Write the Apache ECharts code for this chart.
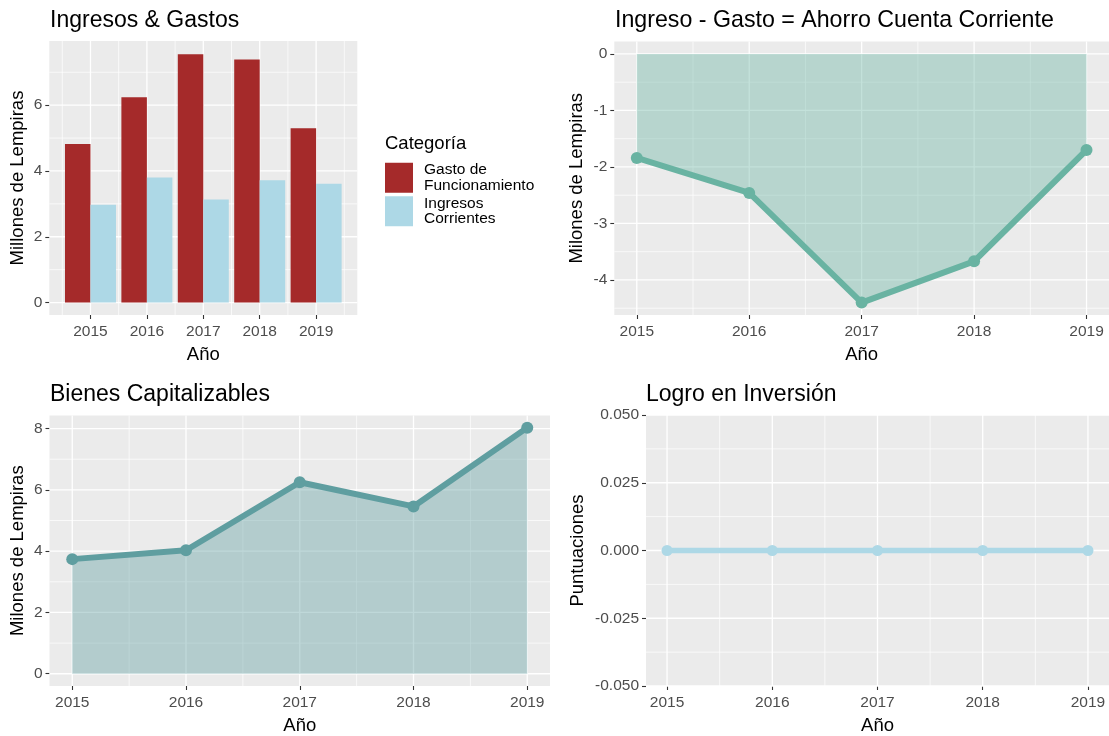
<!DOCTYPE html>
<html>
<head>
<meta charset="utf-8">
<title>Ingresos, Gastos, Ahorro, Bienes e Inversión</title>
<script src="https://cdn.jsdelivr.net/npm/echarts@6/dist/echarts.min.js"></script>
<style>
  html, body { margin: 0; padding: 0; background: #fff; }
  #chart { width: 1109px; height: 736px; }
</style>
</head>
<body>
<div id="chart"></div>
<script>
// datos
const years = [2015, 2016, 2017, 2018, 2019];
const gastoFuncionamiento = [4.82, 6.24, 7.55, 7.39, 5.30];
const ingresosCorrientes = [2.97, 3.80, 3.13, 3.72, 3.61];
const ahorroCuentaCorriente = [-1.84, -2.46, -4.40, -3.67, -1.70];
const bienesCapitalizables = [3.74, 4.03, 6.25, 5.46, 8.03];
const logroInversion = [0, 0, 0, 0, 0];

const ticksIngresosGastos = [0, 2, 4, 6];
const ticksAhorro = [-4, -3, -2, -1, 0];
const ticksBienes = [0, 2, 4, 6, 8];
const ticksLogro = [-0.05, -0.025, 0, 0.025, 0.05];

const FONT = "'Liberation Sans', Arial, sans-serif";
const PANEL_BG = '#EBEBEB';

const chart = echarts.init(document.getElementById('chart'));

function pairs(xs, ys) {
  return xs.map((x, i) => [x, ys[i]]);
}

// ggplot style minor breaks half way between the major ones
function minorsOf(major, min, max) {
  const step = major[1] - major[0];
  const out = [];
  for (let v = major[0] - step / 2; v <= max + 1e-9; v += step) {
    if (v >= min - 1e-9) out.push(+v.toFixed(6));
  }
  return out;
}

// white panel grid drawn as a custom series under the marks
function gridLines(gi, xr, yr, xMajor, yMajor) {
  const items = [];
  xMajor.forEach(v => items.push([v, 0, 1]));
  minorsOf(xMajor, xr[0], xr[1]).forEach(v => items.push([v, 0, 0]));
  yMajor.forEach(v => items.push([v, 1, 1]));
  minorsOf(yMajor, yr[0], yr[1]).forEach(v => items.push([v, 1, 0]));
  const xMid = (xr[0] + xr[1]) / 2;
  const yMid = (yr[0] + yr[1]) / 2;
  return {
    type: 'custom',
    xAxisIndex: gi,
    yAxisIndex: gi,
    z: 1,
    silent: true,
    animation: false,
    encode: { x: -1, y: -1 },
    data: items,
    renderItem: function (params, api) {
      const cs = params.coordSys;
      const v = api.value(0);
      const dir = api.value(1);
      const major = api.value(2);
      let shape;
      if (dir === 0) {
        const px = api.coord([v, yMid])[0];
        shape = { x1: px, y1: cs.y, x2: px, y2: cs.y + cs.height };
      } else {
        const py = api.coord([xMid, v])[1];
        shape = { x1: cs.x, y1: py, x2: cs.x + cs.width, y2: py };
      }
      return {
        type: 'line',
        shape: shape,
        style: { stroke: '#FFFFFF', lineWidth: major ? 1.3 : 0.7 }
      };
    }
  };
}

const tickStyle = { show: true, length: 4, lineStyle: { color: '#333333', width: 1.1 } };
const labelStyle = { color: '#4D4D4D', fontSize: 15.5, fontFamily: FONT };
const nameStyle = { color: '#000000', fontSize: 18.5, fontFamily: FONT };

function xAxisFor(gi, range) {
  return {
    gridIndex: gi,
    type: 'value',
    min: range[0],
    max: range[1],
    axisLine: { show: false, onZero: false },
    axisTick: Object.assign({ customValues: years }, tickStyle),
    axisLabel: Object.assign({ customValues: years, margin: 9, formatter: v => String(v) }, labelStyle),
    splitLine: { show: false },
    name: 'Año',
    nameLocation: 'middle',
    nameGap: 30,
    nameTextStyle: nameStyle
  };
}

function yAxisFor(gi, range, ticks, name, gap, fmt) {
  return {
    gridIndex: gi,
    type: 'value',
    min: range[0],
    max: range[1],
    axisLine: { show: false, onZero: false },
    axisTick: Object.assign({ customValues: ticks }, tickStyle),
    axisLabel: Object.assign({ customValues: ticks, margin: 7, formatter: fmt || (v => String(v)) }, labelStyle),
    splitLine: { show: false },
    name: name,
    nameLocation: 'middle',
    nameGap: gap,
    nameTextStyle: nameStyle
  };
}

const x1 = [2014.27, 2019.73], y1 = [-0.378, 7.95];
const x2 = [2014.8, 2019.2], y2 = [-4.62, 0.22];
const x3 = [2014.8, 2019.2], y3 = [-0.40, 8.43];
const x4 = [2014.8, 2019.2], y4 = [-0.05, 0.05];

const legendNames = {
  'Gasto de Funcionamiento': 'Gasto de\nFuncionamiento',
  'Ingresos Corrientes': 'Ingresos\nCorrientes'
};

function titleAt(text, left, top, size) {
  return {
    text: text,
    left: left,
    top: top,
    padding: 0,
    textStyle: { fontSize: size, fontWeight: 'normal', color: '#000000', fontFamily: FONT }
  };
}

const option = {
  animation: false,
  backgroundColor: '#FFFFFF',
  title: [
    titleAt('Ingresos & Gastos', 50, 9.5, 23),
    titleAt('Ingreso - Gasto = Ahorro Cuenta Corriente', 615, 9.5, 23.2),
    titleAt('Bienes Capitalizables', 50, 383.5, 23),
    titleAt('Logro en Inversión', 646, 383.5, 23),
    titleAt('Categoría', 385, 134.5, 18.5)
  ],
  legend: {
    left: 385,
    top: 162,
    orient: 'vertical',
    padding: 0,
    itemWidth: 28,
    itemHeight: 30,
    itemGap: 2,
    icon: 'rect',
    selectedMode: false,
    data: Object.keys(legendNames),
    formatter: n => legendNames[n],
    textStyle: { fontSize: 15.5, lineHeight: 15.5, color: '#000000', fontFamily: FONT, padding: [0, 0, 0, 6] }
  },
  grid: [
    { left: 49.3, top: 41, width: 308, height: 274 },
    { left: 614.3, top: 41.5, width: 495.5, height: 273.5 },
    { left: 49.5, top: 415.4, width: 500.5, height: 273.2 },
    { left: 646, top: 415, width: 463, height: 274 }
  ].map(g => Object.assign({ show: true, backgroundColor: PANEL_BG, borderWidth: 0, containLabel: false }, g)),
  xAxis: [xAxisFor(0, x1), xAxisFor(1, x2), xAxisFor(2, x3), xAxisFor(3, x4)],
  yAxis: [
    yAxisFor(0, y1, ticksIngresosGastos, 'Millones de Lempiras', 22),
    yAxisFor(1, y2, ticksAhorro, 'Milones de Lempiras', 28),
    yAxisFor(2, y3, ticksBienes, 'Milones de Lempiras', 22),
    yAxisFor(3, y4, ticksLogro, 'Puntuaciones', 59, v => v.toFixed(3))
  ],
  series: [
    gridLines(0, x1, y1, years, ticksIngresosGastos),
    gridLines(1, x2, y2, years, ticksAhorro),
    gridLines(2, x3, y3, years, ticksBienes),
    gridLines(3, x4, y4, years, ticksLogro),
    {
      name: 'Gasto de Funcionamiento',
      type: 'bar',
      xAxisIndex: 0, yAxisIndex: 0,
      z: 2,
      barWidth: 25.5,
      barGap: '0%',
      itemStyle: { color: '#A52A2A' },
      data: pairs(years, gastoFuncionamiento)
    },
    {
      name: 'Ingresos Corrientes',
      type: 'bar',
      xAxisIndex: 0, yAxisIndex: 0,
      z: 2,
      barWidth: 25.5,
      barGap: '0%',
      itemStyle: { color: '#ADD8E6' },
      data: pairs(years, ingresosCorrientes)
    },
    {
      name: 'Ahorro',
      type: 'line',
      xAxisIndex: 1, yAxisIndex: 1,
      z: 3,
      symbol: 'circle',
      symbolSize: 12,
      lineStyle: { color: '#69B3A2', width: 6 },
      itemStyle: { color: '#69B3A2' },
      areaStyle: { color: '#69B3A2', opacity: 0.4 },
      data: pairs(years, ahorroCuentaCorriente)
    },
    {
      name: 'Bienes',
      type: 'line',
      xAxisIndex: 2, yAxisIndex: 2,
      z: 3,
      symbol: 'circle',
      symbolSize: 12,
      lineStyle: { color: '#5F9EA0', width: 6 },
      itemStyle: { color: '#5F9EA0' },
      areaStyle: { color: '#5F9EA0', opacity: 0.4 },
      data: pairs(years, bienesCapitalizables)
    },
    {
      name: 'Logro',
      type: 'line',
      xAxisIndex: 3, yAxisIndex: 3,
      z: 3,
      symbol: 'circle',
      symbolSize: 11,
      lineStyle: { color: '#ADD8E6', width: 5.5 },
      itemStyle: { color: '#ADD8E6' },
      data: pairs(years, logroInversion)
    }
  ]
};

chart.setOption(option);
</script>
</body>
</html>
